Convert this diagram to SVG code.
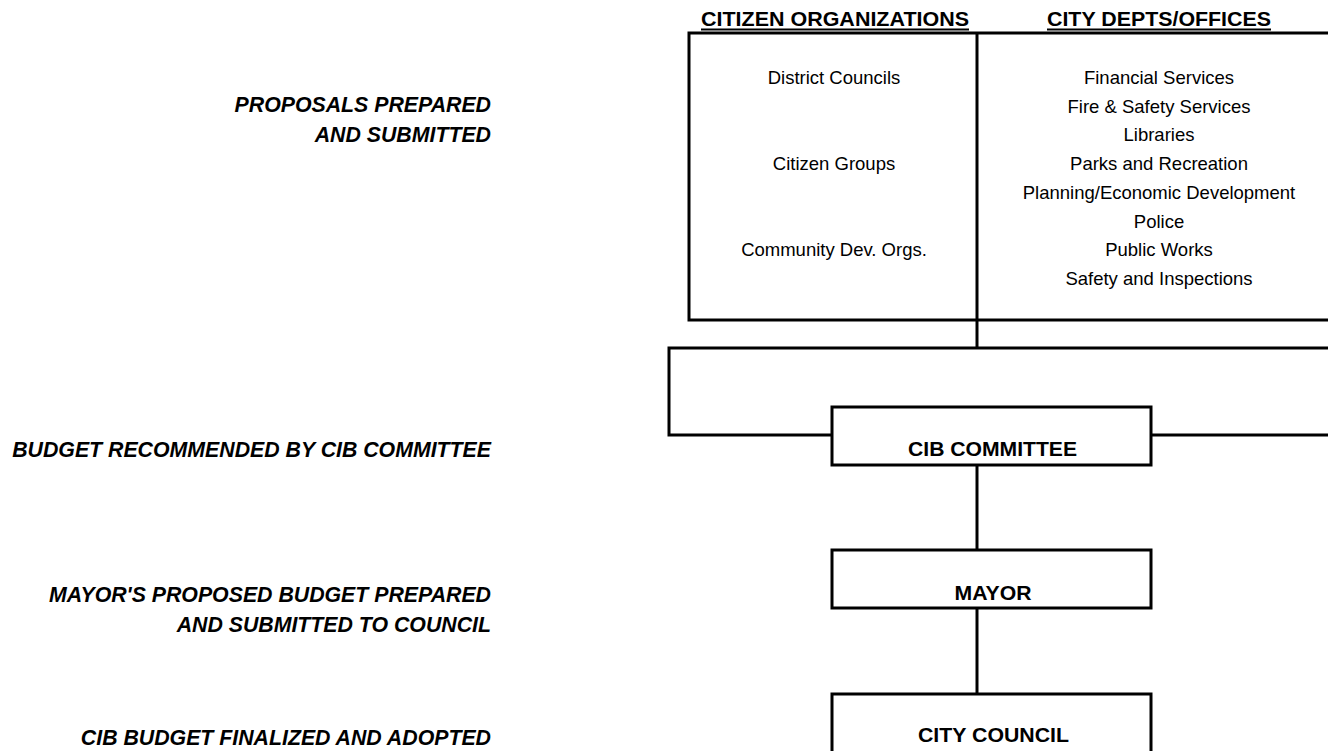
<svg xmlns="http://www.w3.org/2000/svg" width="1328" height="751" viewBox="0 0 1328 751">
<style>
.ln{fill:none;stroke:#000;stroke-width:3}
.box{fill:#fff;stroke:#000;stroke-width:3}
.t{font-family:"Liberation Sans",Arial,sans-serif;font-size:18.5px;fill:#000;text-anchor:middle}
.b{font-family:"Liberation Sans",Arial,sans-serif;font-size:20px;font-weight:bold;fill:#000;text-anchor:middle}
.h{font-family:"Liberation Sans",Arial,sans-serif;font-size:20px;font-weight:bold;fill:#000;text-anchor:middle}
.s{font-family:"Liberation Sans",Arial,sans-serif;font-size:21.3px;font-weight:bold;font-style:italic;fill:#000;text-anchor:end}
</style>
<g id="stages">
<text class="s" x="491" y="111.5">PROPOSALS PREPARED</text>
<text class="s" x="491" y="141.5">AND SUBMITTED</text>
<text class="s" x="491" y="457">BUDGET RECOMMENDED BY CIB COMMITTEE</text>
<text class="s" x="491" y="601.5">MAYOR'S PROPOSED BUDGET PREPARED</text>
<text class="s" x="491" y="631.5">AND SUBMITTED TO COUNCIL</text>
<text class="s" x="491" y="745">CIB BUDGET FINALIZED AND ADOPTED</text>
</g>
<g id="connectors">
<line class="ln" x1="977" y1="320" x2="977" y2="348"/>
<polyline class="ln" points="832,435 669,435 669,348 1340,348"/>
<line class="ln" x1="1151" y1="435" x2="1340" y2="435"/>
<line class="ln" x1="977" y1="465" x2="977" y2="550"/>
<line class="ln" x1="977" y1="608" x2="977" y2="694"/>
</g>
<g id="proposers">
<text class="h" x="835" y="26" textLength="268" lengthAdjust="spacingAndGlyphs">CITIZEN ORGANIZATIONS</text>
<line x1="701" y1="29.5" x2="969" y2="29.5" stroke="#000" stroke-width="2"/>
<text class="h" x="1159" y="26" textLength="224" lengthAdjust="spacingAndGlyphs">CITY DEPTS/OFFICES</text>
<line x1="1047" y1="29.5" x2="1271" y2="29.5" stroke="#000" stroke-width="2"/>
<rect class="box" x="689" y="33" width="651" height="287"/>
<line class="ln" x1="977" y1="33" x2="977" y2="320"/>
<text class="t" x="834" y="83.5">District Councils</text>
<text class="t" x="834" y="170">Citizen Groups</text>
<text class="t" x="834" y="256">Community Dev. Orgs.</text>
<text class="t" x="1159" y="83.5">Financial Services</text>
<text class="t" x="1159" y="112.5">Fire &amp; Safety Services</text>
<text class="t" x="1159" y="141">Libraries</text>
<text class="t" x="1159" y="170">Parks and Recreation</text>
<text class="t" x="1159" y="198.5">Planning/Economic Development</text>
<text class="t" x="1159" y="227.5">Police</text>
<text class="t" x="1159" y="256">Public Works</text>
<text class="t" x="1159" y="285">Safety and Inspections</text>
</g>
<g id="cib">
<rect class="box" x="832" y="407" width="319" height="58"/>
<text class="b" x="992.5" y="456" textLength="169" lengthAdjust="spacingAndGlyphs">CIB COMMITTEE</text>
</g>
<g id="mayor">
<rect class="box" x="832" y="550" width="319" height="58"/>
<text class="b" x="993" y="600" textLength="77" lengthAdjust="spacingAndGlyphs">MAYOR</text>
</g>
<g id="council">
<rect class="box" x="832" y="694" width="319" height="70"/>
<text class="b" x="993.5" y="742" textLength="151" lengthAdjust="spacingAndGlyphs">CITY COUNCIL</text>
</g>
</svg>
